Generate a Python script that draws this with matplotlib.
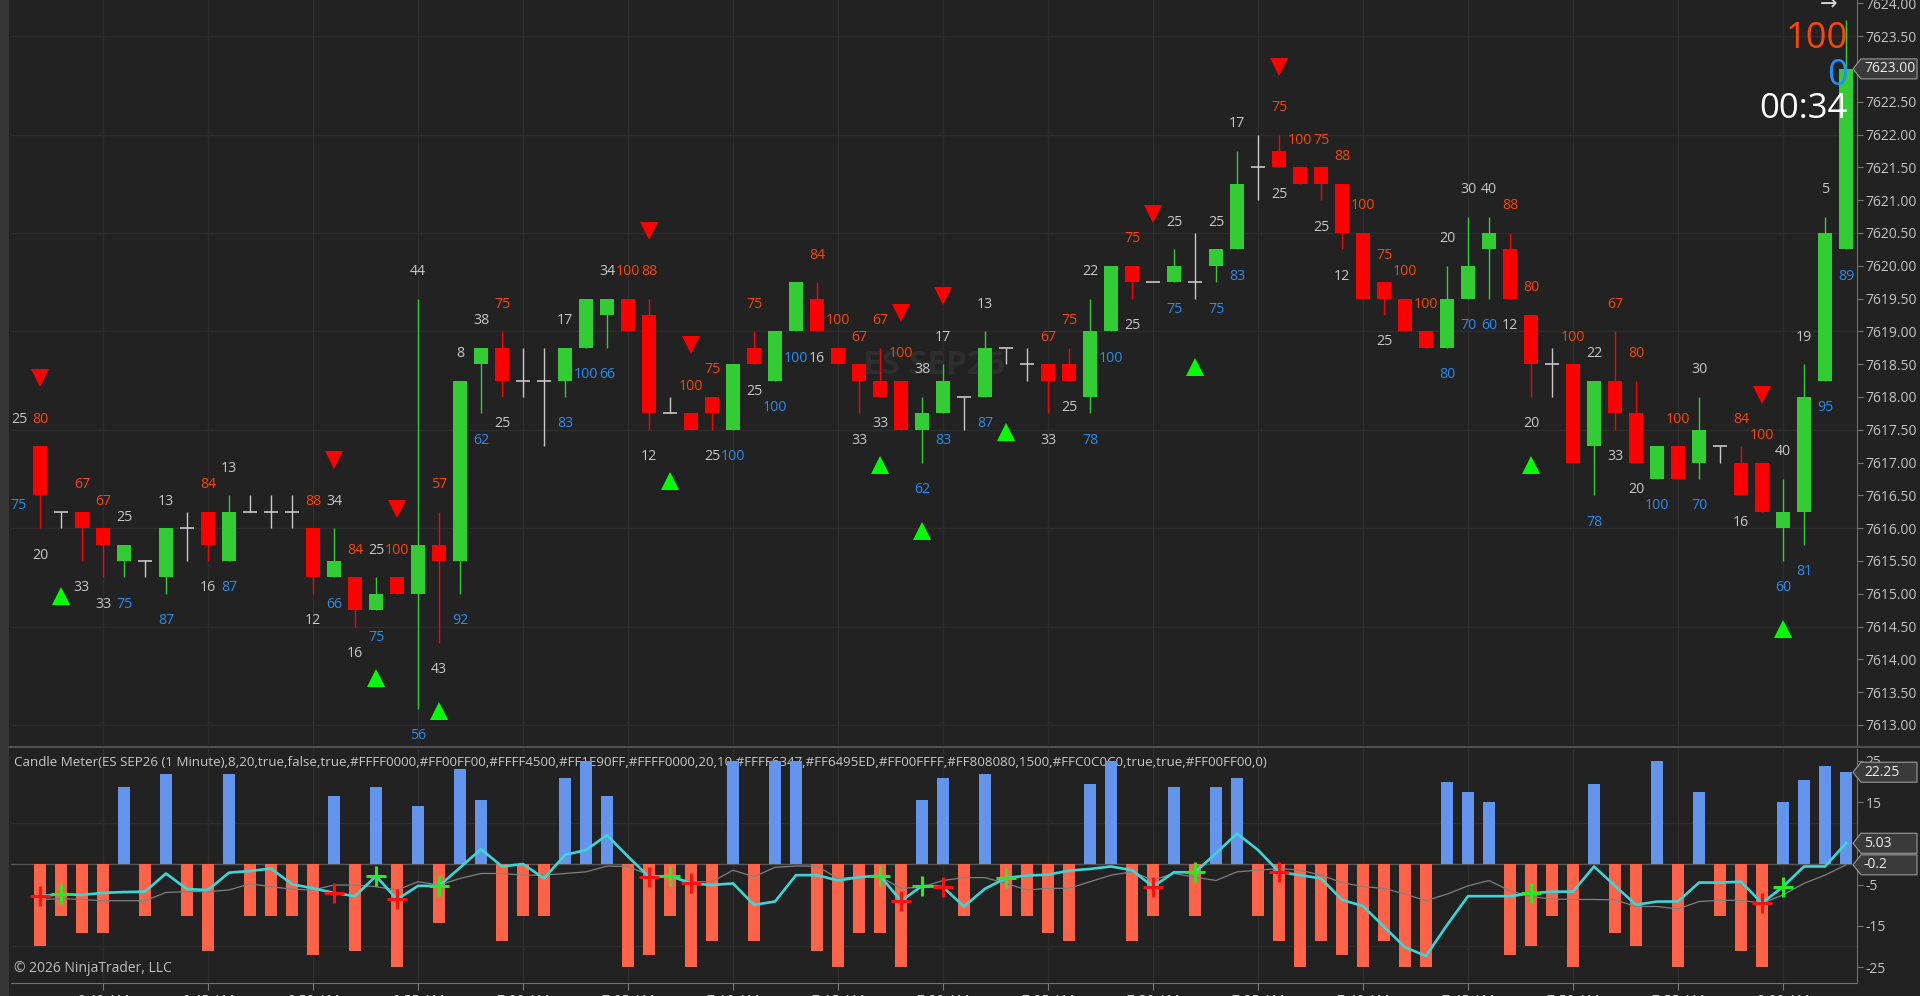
import matplotlib
matplotlib.use("Agg")
import matplotlib.pyplot as plt
import matplotlib.transforms as mtransforms
from matplotlib.patches import Polygon, Rectangle
from matplotlib.lines import Line2D
import numpy as np

plt.rcParams["font.family"] = ["Open Sans", "DejaVu Sans"]

W, H = 1920, 996

# ES SEP26 1 minute candles
opens = [7617.25, 7616.25, 7616.25, 7616.00, 7615.50, 7615.50, 7615.25, 7616.00, 7616.25, 7615.50,
         7616.25, 7616.25, 7616.25, 7616.00, 7615.25, 7615.25, 7614.75, 7615.25, 7615.00, 7615.75,
         7615.50, 7618.50, 7618.75, 7618.25, 7618.25, 7618.25, 7618.75, 7619.25, 7619.50, 7619.25,
         7617.75, 7617.75, 7618.00, 7617.50, 7618.75, 7618.25, 7619.00, 7619.50, 7618.75, 7618.50,
         7618.25, 7618.25, 7617.50, 7617.75, 7618.00, 7618.00, 7618.75, 7618.50, 7618.50, 7618.50,
         7618.00, 7619.00, 7620.00, 7619.75, 7619.75, 7619.75, 7620.00, 7620.25, 7621.50, 7621.75,
         7621.50, 7621.50, 7621.25, 7620.50, 7619.75, 7619.50, 7619.00, 7618.75, 7619.50, 7620.25,
         7620.25, 7619.25, 7618.50, 7618.50, 7617.25, 7618.25, 7617.75, 7616.75, 7617.25, 7617.00,
         7617.25, 7617.00, 7617.00, 7616.00, 7616.25, 7618.25, 7620.25]
highs = [7617.25, 7616.25, 7616.25, 7616.00, 7615.75, 7615.50, 7616.00, 7616.25, 7616.25, 7616.50,
         7616.50, 7616.50, 7616.50, 7616.00, 7616.00, 7615.25, 7615.25, 7615.25, 7619.50, 7616.25,
         7618.25, 7618.75, 7619.00, 7618.75, 7618.75, 7618.75, 7619.50, 7619.50, 7619.50, 7619.50,
         7618.00, 7617.75, 7618.00, 7618.50, 7619.00, 7619.00, 7619.75, 7619.75, 7618.75, 7618.50,
         7618.75, 7618.25, 7618.00, 7618.50, 7618.00, 7619.00, 7618.75, 7618.75, 7618.50, 7618.75,
         7619.50, 7620.00, 7620.00, 7619.75, 7620.25, 7620.50, 7620.25, 7621.75, 7622.00, 7622.00,
         7621.50, 7621.50, 7621.25, 7620.50, 7619.75, 7619.50, 7619.00, 7620.00, 7620.75, 7620.75,
         7620.50, 7619.25, 7618.75, 7618.50, 7618.25, 7619.00, 7618.25, 7617.25, 7617.25, 7618.00,
         7617.25, 7617.25, 7617.00, 7616.75, 7618.50, 7620.75, 7623.75]
lows = [7616.00, 7616.00, 7615.50, 7615.25, 7615.25, 7615.25, 7615.00, 7615.50, 7615.50, 7615.50,
        7616.25, 7616.00, 7616.00, 7615.00, 7615.25, 7614.50, 7614.75, 7615.00, 7613.25, 7614.25,
        7615.00, 7617.75, 7618.00, 7618.00, 7617.25, 7618.00, 7618.75, 7618.75, 7619.00, 7617.50,
        7617.75, 7617.50, 7617.50, 7617.50, 7618.50, 7618.25, 7619.00, 7619.00, 7618.50, 7617.75,
        7618.00, 7617.50, 7617.00, 7617.75, 7617.50, 7618.00, 7618.50, 7618.25, 7617.75, 7618.25,
        7617.75, 7619.00, 7619.50, 7619.75, 7619.75, 7619.50, 7619.75, 7620.25, 7621.00, 7621.50,
        7621.25, 7621.00, 7620.25, 7619.50, 7619.25, 7619.00, 7618.75, 7618.75, 7619.50, 7619.50,
        7619.50, 7618.00, 7618.00, 7617.00, 7616.50, 7617.50, 7617.00, 7616.75, 7616.75, 7616.75,
        7617.00, 7616.50, 7616.25, 7615.50, 7615.75, 7618.25, 7620.25]
closes = [7616.50, 7616.25, 7616.00, 7615.75, 7615.75, 7615.50, 7616.00, 7616.00, 7615.75, 7616.25,
          7616.25, 7616.25, 7616.25, 7615.25, 7615.50, 7614.75, 7615.00, 7615.00, 7615.75, 7615.50,
          7618.25, 7618.75, 7618.25, 7618.25, 7618.25, 7618.75, 7619.50, 7619.50, 7619.00, 7617.75,
          7617.75, 7617.50, 7617.75, 7618.50, 7618.50, 7619.00, 7619.75, 7619.00, 7618.50, 7618.25,
          7618.00, 7617.50, 7617.75, 7618.25, 7618.00, 7618.75, 7618.75, 7618.50, 7618.25, 7618.25,
          7619.00, 7620.00, 7619.75, 7619.75, 7620.00, 7619.75, 7620.25, 7621.25, 7621.50, 7621.50,
          7621.25, 7621.25, 7620.50, 7619.50, 7619.50, 7619.00, 7618.75, 7619.50, 7620.00, 7620.50,
          7619.50, 7618.50, 7618.50, 7617.00, 7618.25, 7617.75, 7617.00, 7617.25, 7616.75, 7617.50,
          7617.25, 7616.50, 7616.25, 7616.25, 7618.00, 7620.50, 7623.00]

# numbers printed above / below each candle (None = nothing printed)
upper_nums = [80, None, 67, 67, 25, None, 13, None, 84, 13,
              None, None, None, 88, 34, 84, 25, 100, 44, 57,
              8, 38, 75, None, None, 17, None, 34, 100, 88,
              None, 100, 75, None, 75, None, None, 84, 100, 67,
              67, 100, 38, 17, None, 13, None, None, 67, 75,
              22, None, 75, None, 25, None, 25, 17, None, 75,
              100, 75, 88, 100, 75, 100, 100, 20, 30, 40,
              88, 80, None, 100, 22, 67, 80, None, 100, 30,
              None, 84, 100, 40, 19, 5, None]
lower_nums = [20, None, 33, 33, 75, None, 87, None, 16, 87,
              None, None, None, 12, 66, 16, 75, None, 56, 43,
              92, 62, 25, None, None, 83, 100, 66, None, 12,
              None, None, 25, 100, 25, 100, 100, 16, None, 33,
              33, None, 62, 83, None, 87, None, None, 33, 25,
              78, 100, 25, None, 75, None, 75, 83, None, 25,
              None, 25, 12, None, 25, None, None, 80, 70, 60,
              12, 20, None, None, 78, 33, 20, 100, None, 70,
              None, 16, None, 60, 81, 95, 89]

# numbers of the bar cut off at the left edge
edge_bar = -1
edge_high, edge_low = 7617.25, 7616.75
edge_upper, edge_lower = 25, 75

sell_signals = [0, 14, 17, 29, 31, 41, 43, 53, 59, 82]
buy_signals = [1, 16, 19, 30, 40, 42, 46, 55, 71, 83]

# Candle Meter panel
meter = [-20, -12.5, -16.75, -16.75, 18.75, -12.5, 21.75, -12.5, -21, 21.75,
         -12.5, -12.5, -12.5, -22, 16.5, -21, 18.75, -25, 14, -14.25,
         23, 15.5, -18.75, -12.5, -12.5, 20.75, 25, 16.5, -25, -22,
         -12.5, -25, -18.75, 25, -18.75, 25, 25, -21, -25, -16.75,
         -16.75, -25, 15.5, 20.75, -12.5, 21.75, -12.5, -12.5, -16.75, -18.75,
         19.5, 25, -18.75, -12.5, 18.75, -12.5, 18.75, 20.75, -12.5, -18.75,
         -25, -18.75, -22, -25, -18.75, -25, -25, 20, 17.5, 15,
         -22, -20, -12.5, -25, 19.5, -16.75, -20, 25, -25, 17.5,
         -12.5, -21, -25, 15, 20.25, 23.75, 22.25]
meter_fast = [-7.8, -7.3, -7.5, -7.0, -6.8, -6.7, -2.3, -6.1, -6.3, -2.1,
              -1.7, -1.1, -4.9, -5.9, -7.0, -7.8, -2.9, -8.6, -5.3, -5.3,
              -0.9, 3.6, -0.6, 0.0, -3.5, 2.2, 3.4, 7.0, 1.8, -3.1,
              -2.9, -4.7, -5.1, -4.7, -9.9, -9.1, -2.7, -2.7, -4.0, -3.2,
              -2.8, -9.0, -5.3, -5.6, -10.3, -6.0, -3.4, -2.8, -2.6, -1.6,
              -1.2, -0.6, -1.5, -5.5, -2.0, -2.0, 2.6, 7.4, 3.4, -1.9,
              -2.7, -3.5, -8.7, -10.2, -15.2, -20.2, -22.3, -14.8, -7.8, -7.8,
              -7.8, -7.1, -6.7, -6.7, -0.6, -5.3, -9.9, -9.1, -9.1, -4.5,
              -4.5, -4.3, -9.5, -5.5, -0.6, -0.6, 5.03]
meter_slow = [-8.6, -8.4, -8.6, -8.9, -8.9, -8.9, -6.9, -6.7, -6.7, -6.3,
              -4.8, -5.5, -6.1, -6.3, -5.1, -5.1, -5.5, -6.3, -4.3, -5.1,
              -3.5, -2.3, -2.3, -2.7, -2.7, -2.3, -1.9, -0.5, -0.6, -2.7,
              -3.1, -4.3, -4.3, -1.5, -3.1, -0.8, -0.5, -0.5, -3.5, -3.1,
              -3.1, -5.9, -5.6, -4.0, -3.3, -3.3, -4.7, -6.3, -5.9, -5.9,
              -4.3, -2.7, -1.9, -3.9, -2.3, -3.2, -4.0, -1.9, -1.5, -1.1,
              -1.5, -2.7, -4.5, -5.5, -5.9, -7.3, -8.9, -7.3, -5.3, -4.0,
              -6.5, -7.9, -8.5, -8.6, -8.6, -8.7, -10.3, -10.3, -10.9, -9.1,
              -8.8, -8.8, -9.5, -7.5, -4.7, -2.7, -0.2]

price_ticks = np.arange(7613.0, 7624.01, 0.5)
price_grid = [7613.0, 7614.5, 7616.0, 7617.5, 7619.0, 7620.5, 7622.0, 7623.5]
meter_ticks = [-25, -15, -5, 5, 15, 25]
meter_grid = [-20, 10]
time_ticks = [3, 8, 13, 18, 23, 28, 33, 38, 43, 48, 53, 58, 63, 68, 73, 78, 83]
time_labels = ["6:40 AM", "6:45 AM", "6:50 AM", "6:55 AM", "7:00 AM", "7:05 AM", "7:10 AM",
               "7:15 AM", "7:20 AM", "7:25 AM", "7:30 AM", "7:35 AM", "7:40 AM", "7:45 AM",
               "7:50 AM", "7:55 AM", "8:00 AM"]

last_price = 7623.00
live_sell, live_buy, countdown = "100", "0", "00:34"
title = ("Candle Meter(ES SEP26 (1 Minute),8,20,true,false,true,#FFFF0000,#FF00FF00,#FFFF4500,"
         "#FF1E90FF,#FFFF0000,20,10,#FFFF6347,#FF6495ED,#FF00FFFF,#FF808080,1500,#FFC0C0C0,"
         "true,true,#FF00FF00,0)")

BG = "#222222"
GREEN = "#32CD32"
RED = "#FF0000"
DOJI = "#C8C8C8"
NUM_RED = "#FF4500"
NUM_BLUE = "#2A8CF0"
NUM_GREY = "#C8C8C8"
AXIS_TXT = "#C4C4C4"
GRID = "#2D2D2D"
NUM_SIZE = 10.2


def fx(px):
    return px / W


def fy(py):
    return 1 - py / H


fig = plt.figure(figsize=(W / 100, H / 100), dpi=100, facecolor=BG)
ax = fig.add_axes([fx(11), fy(745), fx(1857 - 11), (745) / H], facecolor=BG)
ax2 = fig.add_axes([fx(11), fy(983), fx(1857 - 11), (983 - 749) / H], facecolor=BG)

# left border strip
fig.patches.append(Rectangle((0, 0), fx(9), 1, transform=fig.transFigure,
                             facecolor="#363636", edgecolor="none", zorder=-1))

x = np.arange(len(opens))
o, h, l, c = (np.array(v) for v in (opens, highs, lows, closes))
up = c > o
down = c < o
flat = c == o

# ---- price panel ----
ax.set_xlim((11 - 40) / 21, (1857 - 40) / 21)
ax.set_ylim(7612.695, 7624.05)

for t in time_ticks:
    ax.axvline(t, color=GRID, lw=1, zorder=0)
for g in price_grid:
    ax.axhline(g, color=GRID, lw=1, zorder=0)

ax.text(0.5, 0.51, "ES SEP26", transform=ax.transAxes, ha="center", va="center",
        fontsize=24, fontweight="bold", color="#2E2E2E", zorder=1)

wick_cols = np.where(up, GREEN, np.where(down, RED, DOJI))
ax.vlines(x, l, h, colors=wick_cols, lw=1.0, zorder=2)
ax.bar(x[up], (c - o)[up], bottom=o[up], width=0.62, color=GREEN, lw=0, zorder=3)
ax.bar(x[down], (o - c)[down], bottom=c[down], width=0.62, color=RED, lw=0, zorder=3)
ax.hlines(o[flat], x[flat] - 0.31, x[flat] + 0.31, colors=DOJI, lw=1.2, zorder=3)

for i in x:
    if upper_nums[i] is not None:
        ax.annotate(str(upper_nums[i]), (i, h[i]), xytext=(0, 27), textcoords="offset pixels",
                    ha="center", va="center", fontsize=NUM_SIZE,
                    color=NUM_RED if down[i] else NUM_GREY, clip_on=True, zorder=4)
    if lower_nums[i] is not None:
        ax.annotate(str(lower_nums[i]), (i, l[i]), xytext=(0, -27), textcoords="offset pixels",
                    ha="center", va="center", fontsize=NUM_SIZE,
                    color=NUM_BLUE if up[i] else NUM_GREY, clip_on=True, zorder=4)
ax.annotate(str(edge_upper), (edge_bar, edge_high), xytext=(0, 27), textcoords="offset pixels",
            ha="center", va="center", fontsize=NUM_SIZE, color=NUM_GREY, clip_on=True)
ax.annotate(str(edge_lower), (edge_bar, edge_low), xytext=(0, -27), textcoords="offset pixels",
            ha="center", va="center", fontsize=NUM_SIZE, color=NUM_BLUE, clip_on=True)

above = mtransforms.offset_copy(ax.transData, fig=fig, x=0, y=68, units="dots")
below = mtransforms.offset_copy(ax.transData, fig=fig, x=0, y=-68, units="dots")
ax.plot(sell_signals, h[sell_signals], "v", ls="none", color="#FF0000", ms=13, mew=0,
        transform=above, zorder=5)
ax.plot(buy_signals, l[buy_signals], "^", ls="none", color="#00FF00", ms=13, mew=0,
        transform=below, zorder=5)

ax.yaxis.tick_right()
ax.set_yticks(price_ticks)
ax.set_yticklabels([f"{p:.2f}" for p in price_ticks])
ax.tick_params(axis="y", colors="#777777", labelcolor=AXIS_TXT, labelsize=10, length=4, pad=2)
ax.set_xticks([])
for s in ("left", "top", "bottom"):
    ax.spines[s].set_visible(False)
ax.spines["right"].set_color("#6E6E6E")

# ---- Candle Meter panel ----
ax2.set_xlim(ax.get_xlim())
ax2.set_ylim(-28.85, 27.88)
for t in time_ticks:
    ax2.axvline(t, color=GRID, lw=1, zorder=0)
for g in meter_grid:
    ax2.axhline(g, color=GRID, lw=1, zorder=0)

ax2.text(3 / 1846, 0.944, title, transform=ax2.transAxes, ha="left", va="center",
         fontsize=9.6, color="#C8C8C8", zorder=1)
ax2.text(3 / 1846, 0.064, "\u00a9 2026 NinjaTrader, LLC", transform=ax2.transAxes,
         ha="left", va="center", fontsize=10, color="#C0C0C0", zorder=6)

m = np.array(meter)
ax2.bar(x, m, width=0.57, color=np.where(m >= 0, "#6495ED", "#FF6347"), lw=0, zorder=2)
ax2.axhline(0, color="#555555", lw=1, zorder=1.5)
fast = np.array(meter_fast)
ax2.plot(x, meter_slow, color="#808080", lw=0.9, zorder=3)
ax2.plot(x, fast, color="#3CD6D6", lw=1.9, zorder=4)
ax2.plot(buy_signals, fast[buy_signals], "+", ls="none", color="#22EE22", ms=14, mew=2.2, zorder=5)
ax2.plot(sell_signals, fast[sell_signals], "+", ls="none", color="#FF1010", ms=14, mew=2.2, zorder=5)

ax2.yaxis.tick_right()
ax2.set_yticks(meter_ticks)
ax2.set_yticklabels([str(v) for v in meter_ticks])
ax2.tick_params(axis="y", colors="#777777", labelcolor=AXIS_TXT, labelsize=10, length=4, pad=2)
ax2.set_xticks(time_ticks)
ax2.set_xticklabels(time_labels)
ax2.tick_params(axis="x", colors="#777777", labelcolor=AXIS_TXT, labelsize=10, length=5, pad=3)
ax2.spines["left"].set_visible(False)
ax2.spines["top"].set_visible(False)
ax2.spines["right"].set_color("#6E6E6E")
ax2.spines["bottom"].set_color("#6E6E6E")

# panel separator
fig.lines.append(Line2D([fx(9), 1], [fy(747), fy(747)], transform=fig.transFigure,
                        color="#5A5A5A", lw=1.2, zorder=10))


def value_box(axis, val, text, fg="#EDEDED"):
    yc = axis.transData.transform((0, val))[1] / fig.bbox.height
    hh = 10 / H
    x0, x1, tip = fx(1861), fx(1917), fx(1853)
    fig.patches.append(Polygon([(tip, yc), (x0, yc + hh), (x1, yc + hh), (x1, yc - hh), (x0, yc - hh)],
                               closed=True, transform=fig.transFigure, facecolor="#3A3A3A",
                               edgecolor="#9A9A9A", lw=0.8, zorder=8))
    fig.text(fx(1864), yc, text, ha="left", va="center", fontsize=10, color=fg, zorder=9)


value_box(ax, last_price, f"{last_price:.2f}")
value_box(ax2, meter[-1], f"{meter[-1]:.2f}")
value_box(ax2, meter_fast[-1], f"{meter_fast[-1]:.2f}")
value_box(ax2, meter_slow[-1], f"{meter_slow[-1]:.1f}")

# live readout of the forming bar
fig.text(fx(1848), fy(39), live_sell, ha="right", va="center", fontsize=26, color="#FF4500", zorder=12)
fig.text(fx(1848), fy(76), live_buy, ha="right", va="center", fontsize=26, color="#1E90FF", zorder=12)
fig.text(fx(1848), fy(109), countdown, ha="right", va="center", fontsize=25, color="white", zorder=12)
fig.text(fx(1829), fy(5), "\u2192", ha="center", va="center", fontsize=15, color="#DCDCDC", zorder=12)

fig.savefig("out.png", dpi=100, facecolor=BG)
